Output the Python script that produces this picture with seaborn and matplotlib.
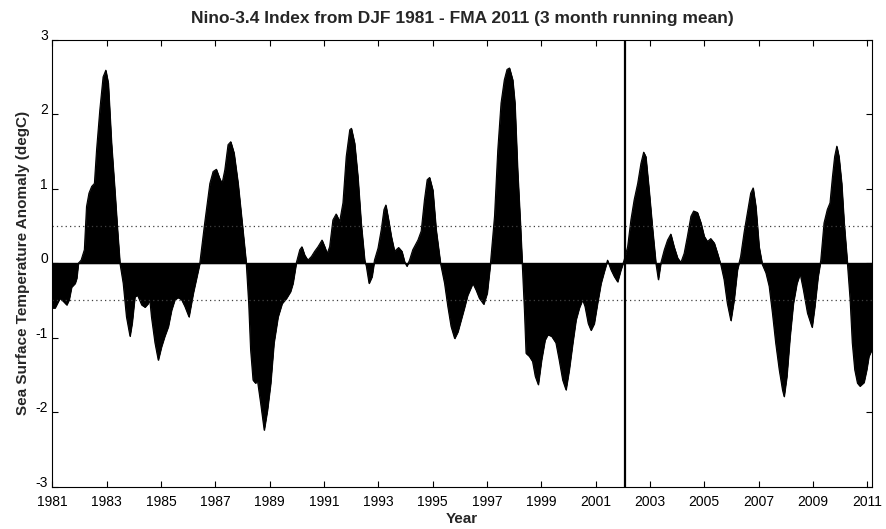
import numpy as np
import pandas as pd
import matplotlib
matplotlib.use('Agg')
import matplotlib.pyplot as plt
import matplotlib.transforms as mtransforms
import seaborn as sns

# =============================================================================
# DATA (decimal year vs anomaly in degC)
# =============================================================================

year = [
    1981.00, 1981.10, 1981.28, 1981.40, 1981.53, 1981.62, 1981.71, 1981.84, 1981.90, 1981.96,
    1982.06, 1982.18, 1982.26, 1982.35, 1982.45, 1982.55, 1982.63, 1982.75, 1982.87, 1982.97,
    1983.06, 1983.18, 1983.31, 1983.40, 1983.49, 1983.61, 1983.73, 1983.86, 1983.94, 1984.04,
    1984.14, 1984.29, 1984.41, 1984.53, 1984.59, 1984.65, 1984.78, 1984.90, 1985.02, 1985.14,
    1985.27, 1985.39, 1985.51, 1985.63, 1985.76, 1985.88, 1986.03, 1986.19, 1986.43, 1986.61,
    1986.80, 1986.92, 1987.04, 1987.16, 1987.25, 1987.35, 1987.47, 1987.57, 1987.69, 1987.84,
    1987.99, 1988.14, 1988.23, 1988.30, 1988.39, 1988.48, 1988.55, 1988.67, 1988.80, 1988.92,
    1989.04, 1989.16, 1989.31, 1989.46, 1989.62, 1989.77, 1989.86, 1989.98, 1990.11, 1990.19,
    1990.29, 1990.41, 1990.54, 1990.66, 1990.78, 1990.93, 1991.03, 1991.12, 1991.21, 1991.33,
    1991.45, 1991.58, 1991.70, 1991.82, 1991.95, 1992.01, 1992.13, 1992.25, 1992.37, 1992.50,
    1992.56, 1992.66, 1992.77, 1992.86, 1992.99, 1993.11, 1993.21, 1993.28, 1993.38, 1993.48,
    1993.60, 1993.75, 1993.87, 1993.97, 1994.05, 1994.15, 1994.27, 1994.46, 1994.58, 1994.70,
    1994.80, 1994.89, 1995.01, 1995.13, 1995.29, 1995.44, 1995.56, 1995.68, 1995.81, 1995.93,
    1996.05, 1996.17, 1996.29, 1996.48, 1996.60, 1996.72, 1996.88, 1997.01, 1997.13, 1997.28,
    1997.40, 1997.52, 1997.64, 1997.74, 1997.83, 1997.95, 1998.03, 1998.13, 1998.23, 1998.30,
    1998.38, 1998.44, 1998.56, 1998.68, 1998.78, 1998.89, 1999.01, 1999.14, 1999.24, 1999.38,
    1999.54, 1999.66, 1999.79, 1999.91, 2000.03, 2000.16, 2000.28, 2000.40, 2000.52, 2000.61,
    2000.73, 2000.83, 2000.95, 2001.07, 2001.20, 2001.32, 2001.44, 2001.57, 2001.69, 2001.81,
    2001.93, 2002.05, 2002.18, 2002.30, 2002.42, 2002.55, 2002.67, 2002.77, 2002.85, 2002.97,
    2003.10, 2003.22, 2003.31, 2003.40, 2003.53, 2003.65, 2003.77, 2003.89, 2004.02, 2004.14,
    2004.26, 2004.38, 2004.51, 2004.61, 2004.75, 2004.88, 2005.00, 2005.12, 2005.24, 2005.37,
    2005.49, 2005.61, 2005.73, 2005.85, 2005.98, 2006.10, 2006.22, 2006.34, 2006.47, 2006.59,
    2006.71, 2006.80, 2006.90, 2007.02, 2007.14, 2007.27, 2007.39, 2007.51, 2007.63, 2007.76,
    2007.88, 2007.94, 2008.04, 2008.16, 2008.28, 2008.41, 2008.53, 2008.65, 2008.80, 2008.97,
    2009.07, 2009.19, 2009.29, 2009.41, 2009.53, 2009.63, 2009.72, 2009.80, 2009.88, 2009.96,
    2010.06, 2010.15, 2010.27, 2010.37, 2010.45, 2010.54, 2010.64, 2010.73, 2010.88, 2010.98,
    2011.06, 2011.17,
]

nino34 = [
    -0.60, -0.60, -0.47, -0.51, -0.56, -0.49, -0.32, -0.27, -0.20, 0.00,
    0.04, 0.18, 0.76, 0.94, 1.03, 1.07, 1.52, 2.06, 2.50, 2.59,
    2.42, 1.61, 0.94, 0.45, 0.00, -0.27, -0.72, -0.98, -0.80, -0.45,
    -0.43, -0.56, -0.59, -0.54, -0.49, -0.72, -1.07, -1.30, -1.12, -0.98,
    -0.85, -0.63, -0.49, -0.46, -0.49, -0.58, -0.72, -0.40, 0.00, 0.54,
    1.07, 1.23, 1.26, 1.14, 1.07, 1.25, 1.59, 1.63, 1.48, 1.07,
    0.54, 0.00, -0.54, -1.16, -1.57, -1.61, -1.57, -1.88, -2.24, -1.97,
    -1.61, -1.07, -0.72, -0.54, -0.47, -0.38, -0.27, 0.00, 0.18, 0.22,
    0.11, 0.04, 0.09, 0.16, 0.22, 0.31, 0.22, 0.13, 0.22, 0.58,
    0.66, 0.56, 0.81, 1.43, 1.79, 1.81, 1.61, 1.16, 0.54, 0.04,
    -0.04, -0.27, -0.18, 0.04, 0.20, 0.45, 0.72, 0.78, 0.58, 0.36,
    0.16, 0.21, 0.16, 0.02, -0.04, 0.04, 0.18, 0.31, 0.43, 0.85,
    1.12, 1.15, 0.98, 0.45, 0.00, -0.27, -0.58, -0.85, -1.01, -0.92,
    -0.76, -0.60, -0.43, -0.27, -0.36, -0.47, -0.55, -0.40, 0.00, 0.63,
    1.52, 2.15, 2.46, 2.60, 2.62, 2.46, 2.15, 1.25, 0.54, 0.00,
    -0.63, -1.21, -1.25, -1.32, -1.52, -1.63, -1.30, -1.03, -0.96, -0.98,
    -1.07, -1.30, -1.57, -1.70, -1.43, -1.07, -0.76, -0.60, -0.49, -0.58,
    -0.81, -0.90, -0.81, -0.54, -0.27, -0.11, 0.04, -0.09, -0.18, -0.25,
    -0.09, 0.04, 0.22, 0.58, 0.85, 1.07, 1.34, 1.49, 1.43, 0.98,
    0.45, 0.00, -0.22, 0.00, 0.18, 0.31, 0.39, 0.22, 0.07, 0.01,
    0.13, 0.36, 0.63, 0.70, 0.68, 0.54, 0.36, 0.29, 0.33, 0.27,
    0.13, -0.02, -0.22, -0.54, -0.77, -0.49, -0.09, 0.09, 0.42, 0.68,
    0.94, 1.01, 0.76, 0.22, -0.02, -0.13, -0.31, -0.67, -1.07, -1.43,
    -1.70, -1.79, -1.52, -0.98, -0.54, -0.27, -0.14, -0.36, -0.67, -0.86,
    -0.58, -0.18, 0.04, 0.54, 0.72, 0.81, 1.16, 1.43, 1.57, 1.43,
    1.07, 0.54, 0.00, -0.49, -1.07, -1.43, -1.61, -1.65, -1.60, -1.43,
    -1.25, -1.16,
]

xticks = list(range(1981, 2012, 2))
yticks = list(range(-3, 4))
threshold = 0.5
mark_year = 2002.08

# =============================================================================
# PLOT
# =============================================================================

sns.set_style('ticks')
plt.rcParams['font.family'] = ['Liberation Sans Narrow', 'Liberation Sans', 'DejaVu Sans']
plt.rcParams['axes.unicode_minus'] = False

df = pd.DataFrame({'year': year, 'anom': nino34})

fig = plt.figure(figsize=(8.86, 5.29), dpi=100)
ax = fig.add_axes([0.059, 0.080, 0.925, 0.845])

ax.fill_between(df['year'], df['anom'], 0, color='black', linewidth=0.6)
sns.lineplot(data=df, x='year', y='anom', color='black', linewidth=0.8, ax=ax)
ax.axhline(0, color='black', linewidth=1.0)
for yv in (threshold, -threshold):
    ax.axhline(yv, color='0.25', linewidth=0.9, linestyle=(0, (1, 2.5)))
ax.axvline(mark_year, color='black', linewidth=1.6)

ax.set_xlim(1981, 2011.17)
ax.set_ylim(-3, 3)
ax.set_xticks(xticks)
ax.set_yticks(yticks)
ax.tick_params(direction='in', length=4, width=0.8, top=True, right=True,
               labelsize=10, colors='black')
ax.tick_params(axis='x', pad=6)
ax.tick_params(axis='y', pad=3)
for side in ['left', 'right', 'top', 'bottom']:
    ax.spines[side].set_visible(True)
    ax.spines[side].set_linewidth(0.8)
    ax.spines[side].set_color('black')

# MATLAB-style y tick labels sit a little above their ticks
lift = mtransforms.ScaledTranslation(0, 4 / 72, fig.dpi_scale_trans)
for lbl in ax.get_yticklabels():
    lbl.set_transform(lbl.get_transform() + lift)

ax.set_title('Nino-3.4 Index from DJF 1981 - FMA 2011 (3 month running mean)',
             fontsize=12.5, fontweight='bold', pad=12)
ax.set_xlabel('Year', fontsize=11, fontweight='bold', labelpad=2)
ax.set_ylabel('Sea Surface Temperature Anomaly (degC)', fontsize=11,
              fontweight='bold', labelpad=4)

fig.savefig('out.png', dpi=100)
